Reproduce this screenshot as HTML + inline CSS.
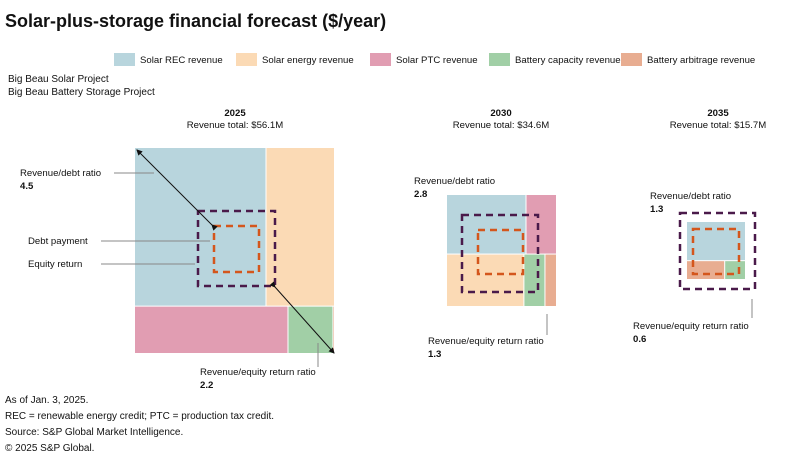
<!DOCTYPE html>
<html><head><meta charset="utf-8"><style>
body{margin:0;background:#fff;font-family:"Liberation Sans",sans-serif;}
svg text{font-family:"Liberation Sans",sans-serif;fill:#111;}
</style></head><body>
<svg id="chart" width="800" height="464" viewBox="0 0 800 464" xmlns="http://www.w3.org/2000/svg">
<text x="5" y="27" font-size="18" font-weight="bold">Solar-plus-storage financial forecast ($/year)</text>
<g id="legend"></g>
<text x="8" y="82" font-size="10">Big Beau Solar Project</text>
<text x="8" y="95" font-size="10">Big Beau Battery Storage Project</text>
<g id="panels"></g>
<g font-size="10">
<text x="5" y="403">As of Jan. 3, 2025.</text>
<text x="5" y="419">REC = renewable energy credit; PTC = production tax credit.</text>
<text x="5" y="435">Source: S&amp;P Global Market Intelligence.</text>
<text x="5" y="451">© 2025 S&amp;P Global.</text>
</g>
</svg>
<script>
const categories = ["Solar REC revenue","Solar energy revenue","Solar PTC revenue","Battery capacity revenue","Battery arbitrage revenue"];
const colors = ["#b8d5dd","#fbdab5","#e19db2","#a1cfa6","#e8ad91"];
const years = ["2025","2030","2035"];
const totals = ["$56.1M","$34.6M","$15.7M"];
const debtRatios = ["4.5","2.8","1.3"];
const equityRatios = ["2.2","1.3","0.6"];
// revenue values ($M) by year, per category
const rev2025 = [28.4,14.8,9.9,2.9,0.1];
const rev2030 = [13.3,11.4,5.1,3.1,1.7];
const rev2035 = [10.6,0,0,1.8,3.3];
// row grouping (indices of categories) per year
const topRow = [[0,1],[0,2],[0]];
const botRow = [[2,3,4],[1,3,4],[4,3]];
const revs = [rev2025,rev2030,rev2035];

const NS="http://www.w3.org/2000/svg";
const svg=document.getElementById('chart');
function mk(tag,attrs,parent){const e=document.createElementNS(NS,tag);for(const k in attrs)e.setAttribute(k,attrs[k]);(parent||svg).appendChild(e);return e;}

const lg=document.getElementById('legend');
const legX=[114,236,370,489,621];
categories.forEach((c,i)=>{
  const g=mk('g',{},lg);
  
  
  mk('rect',{x:legX[i],y:53,width:21,height:13,fill:colors[i]},g);
  const t=mk('text',{x:legX[i]+26,y:63,'font-size':9.6},g);t.textContent=c;
});

const layout=[{x:135,y:148,sw:200,sh:206,cx:235,pb:[198,211,77,75],ob:[214,226,45,46]},
              {x:447,y:195,sw:110,sh:112,cx:501,pb:[462,215,76,77],ob:[478,230,45,44]},
              {x:687,y:222,sw:59,sh:58,cx:718,pb:[680,213,75,76],ob:[693,229,46,45]}];
const panels=document.getElementById('panels');
years.forEach((yr,p)=>{
  const L=layout[p],v=revs[p];
  const g=mk('g',{},panels);
  
  
  const h1=mk('text',{x:L.cx,y:116,'font-size':9.6,'font-weight':'bold','text-anchor':'middle'},g);h1.textContent=yr;
  const h2=mk('text',{x:L.cx,y:128,'font-size':9.6,'text-anchor':'middle'},g);h2.textContent='Revenue total: '+totals[p];
  let total=0; for(let i=0;i<v.length;i++) total+=v[i];
  const rows=[topRow[p],botRow[p]];let yy=L.y;
  for(const r of rows){
    let rs=0; for(const i of r) rs+=v[i];
    const rh=rs/total*L.sh; let xx=L.x;
    for(const i of r){const w=v[i]/rs*L.sw;
      const rc=mk('rect',{x:xx,y:yy,width:Math.max(0,w-1),height:Math.max(0,rh-1),fill:colors[i]},g);
      
      
      xx+=w;}
    yy+=rh;
  }
  const pb=mk('rect',{x:L.pb[0],y:L.pb[1],width:L.pb[2],height:L.pb[3],fill:'none',stroke:'#4a1a4a','stroke-width':2.5,'stroke-dasharray':'7,5'},g);
  
  
  const ob=mk('rect',{x:L.ob[0],y:L.ob[1],width:L.ob[2],height:L.ob[3],fill:'none',stroke:'#d4561c','stroke-width':2.5,'stroke-dasharray':'7,5'},g);
  
  
});

function txt(x,y,s,b,anchor){const t=mk('text',{x:x,y:y,'font-size':9.6,'font-weight':b?'bold':'normal','text-anchor':anchor||'start'});t.textContent=s;return t;}
function line(x1,y1,x2,y2,c){return mk('line',{x1,y1,x2,y2,stroke:c||'#888','stroke-width':1});}
mk('defs',{}).innerHTML='<marker id="ah" markerWidth="6" markerHeight="6" refX="5" refY="3" orient="auto"><path d="M0,0L6,3L0,6z" fill="#111"/></marker>';
const a1=line(212,225,137,150,'#111');a1.setAttribute('marker-start','url(#ah)');a1.setAttribute('marker-end','url(#ah)');
const a2=line(275,287,334,353,'#111');a2.setAttribute('marker-start','url(#ah)');a2.setAttribute('marker-end','url(#ah)');
txt(20,176,'Revenue/debt ratio');txt(20,189,debtRatios[0],true);line(114,173,154,173);
txt(28,244,'Debt payment');line(101,241,210,241);
txt(28,267,'Equity return');line(101,264,195,264);
txt(200,375,'Revenue/equity return ratio');txt(200,388,equityRatios[0],true);line(318,343,318,367);
txt(414,184,'Revenue/debt ratio');txt(414,197,debtRatios[1],true);
txt(428,344,'Revenue/equity return ratio');txt(428,357,equityRatios[1],true);line(547,314,547,335);
txt(650,199,'Revenue/debt ratio');txt(650,212,debtRatios[2],true);
txt(633,329,'Revenue/equity return ratio');txt(633,342,equityRatios[2],true);line(752,299,752,318);
</script>
</body></html>
